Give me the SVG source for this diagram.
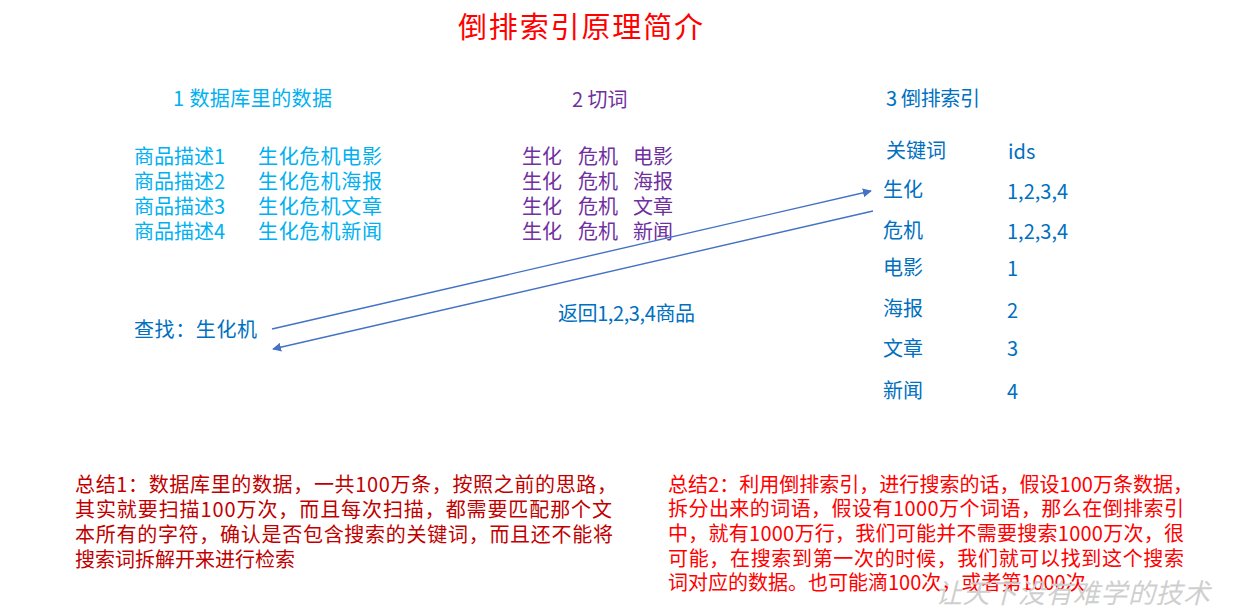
<svg xmlns="http://www.w3.org/2000/svg" width="1235" height="615" viewBox="0 0 1235 615">
<defs>
<style>
text{font-family:"Noto Sans CJK SC","Noto Sans",sans-serif;font-size:20px}
.title{fill:#FF0000;font-size:29px}
.c1{fill:#00B0F0}
.c2{fill:#7030A0}
.c3{fill:#0070C0}
.s1{fill:#C00000;font-size:20px}
.s2{fill:#FF0000;font-size:20px}
.wm{fill:#cfcfcf;font-size:27px;font-style:italic}
.conn{stroke:#4472C4;stroke-width:1.4;fill:none}
</style>
<marker id="ah" viewBox="0 0 10 10" refX="9" refY="5" markerWidth="9" markerHeight="9" markerUnits="userSpaceOnUse" orient="auto">
<path d="M0,0 L10,5 L0,10 z" fill="#4472C4"/>
</marker>
</defs>
<rect width="1235" height="615" fill="#ffffff"/>
<g id="title"><text class="title" x="458" y="38" textLength="245">倒排索引原理简介</text></g>
<g id="db">
<text class="c1" x="173" y="106" textLength="159">1 数据库里的数据</text>
<text class="c1" x="134" y="164">商品描述1</text>
<text class="c1" x="258" y="164" textLength="124">生化危机电影</text>
<text class="c1" x="134" y="189">商品描述2</text>
<text class="c1" x="258" y="189" textLength="124">生化危机海报</text>
<text class="c1" x="134" y="214">商品描述3</text>
<text class="c1" x="258" y="214" textLength="124">生化危机文章</text>
<text class="c1" x="134" y="239">商品描述4</text>
<text class="c1" x="258" y="239" textLength="124">生化危机新闻</text>
</g>
<g id="cut">
<text class="c2" x="572" y="107">2 切词</text>
<text class="c2" y="164"><tspan x="522">生化</tspan><tspan x="578">危机</tspan><tspan x="633">电影</tspan></text>
<text class="c2" y="189"><tspan x="522">生化</tspan><tspan x="578">危机</tspan><tspan x="633">海报</tspan></text>
<text class="c2" y="214"><tspan x="522">生化</tspan><tspan x="578">危机</tspan><tspan x="633">文章</tspan></text>
<text class="c2" y="239"><tspan x="522">生化</tspan><tspan x="578">危机</tspan><tspan x="633">新闻</tspan></text>
</g>
<g id="index">
<text class="c3" x="886" y="106" textLength="94">3 倒排索引</text>
<text class="c3" x="886" y="158">关键词</text>
<text class="c3" x="1008" y="159">ids</text>
<text class="c3" x="883" y="197">生化</text>
<text class="c3" x="1007" y="199">1,2,3,4</text>
<text class="c3" x="883" y="238">危机</text>
<text class="c3" x="1007" y="239">1,2,3,4</text>
<text class="c3" x="883" y="275">电影</text>
<text class="c3" x="1007" y="276">1</text>
<text class="c3" x="883" y="316">海报</text>
<text class="c3" x="1007" y="318">2</text>
<text class="c3" x="883" y="356">文章</text>
<text class="c3" x="1007" y="356">3</text>
<text class="c3" x="883" y="398">新闻</text>
<text class="c3" x="1007" y="399">4</text>
</g>
<g id="query"><text class="c3" x="134" y="337" textLength="123">查找：生化机</text></g>
<g id="result"><text class="c3" x="558" y="321" textLength="137">返回1,2,3,4商品</text></g>
<g id="connectors">
<line class="conn" x1="272" y1="329" x2="871" y2="191" marker-end="url(#ah)"/>
<line class="conn" x1="873" y1="211" x2="273" y2="349" marker-end="url(#ah)"/>
</g>
<g id="summary1">
<text class="s1" x="75" y="492" textLength="542">总结1：数据库里的数据，一共100万条，按照之前的思路，</text>
<text class="s1" x="75" y="517" textLength="537">其实就要扫描100万次，而且每次扫描，都需要匹配那个文</text>
<text class="s1" x="75" y="542" textLength="538">本所有的字符，确认是否包含搜索的关键词，而且还不能将</text>
<text class="s1" x="75" y="567">搜索词拆解开来进行检索</text>
</g>
<g id="summary2">
<text class="s2" x="668" y="492" textLength="525">总结2：利用倒排索引，进行搜索的话，假设100万条数据，</text>
<text class="s2" x="668" y="516" textLength="516">拆分出来的词语，假设有1000万个词语，那么在倒排索引</text>
<text class="s2" x="668" y="541" textLength="516">中，就有1000万行，我们可能并不需要搜索1000万次，很</text>
<text class="s2" x="668" y="566" textLength="516">可能，在搜索到第一次的时候，我们就可以找到这个搜索</text>
<text class="s2" x="668" y="590">词对应的数据。也可能滴100次，或者第1000次</text>
</g>
<g id="watermark"><text class="wm" x="935" y="603" textLength="275">让天下没有难学的技术</text></g>
</svg>
